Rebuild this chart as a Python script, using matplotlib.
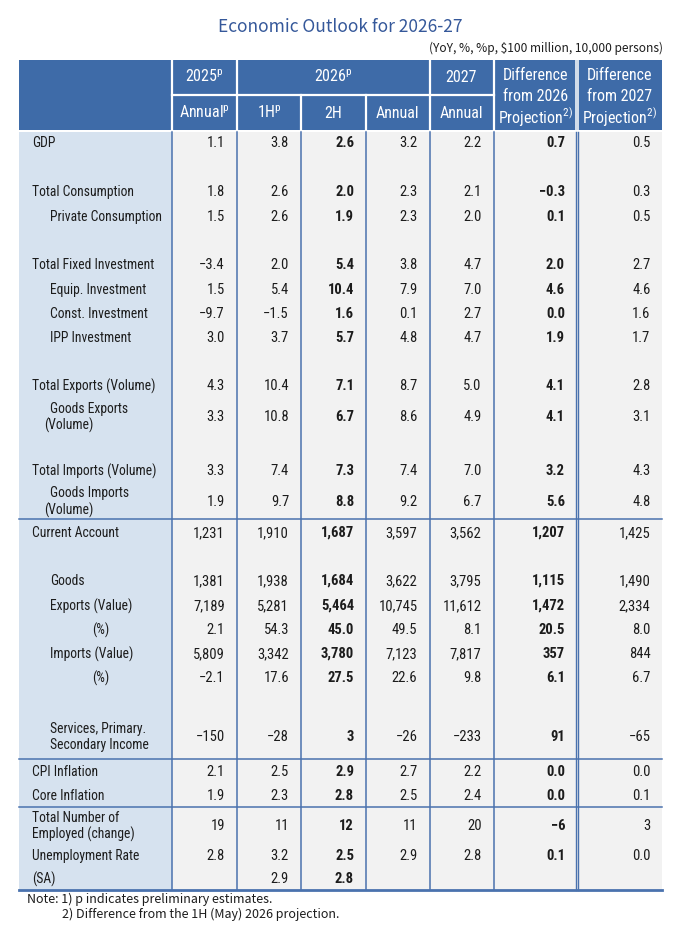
import matplotlib
matplotlib.use('Agg')
import matplotlib.pyplot as plt
from matplotlib import font_manager
from matplotlib.patches import Rectangle

# pick a condensed family if there is one
installed = {f.name for f in font_manager.fontManager.ttflist}
fam = 'DejaVu Sans'
for cand in ['Liberation Sans Narrow', 'DejaVu Sans Condensed', 'Roboto Condensed', 'Liberation Sans']:
    if cand in installed:
        fam = cand
        break
wide = ['Noto Sans CJK KR', 'DejaVu Sans']
plt.rcParams['font.family'] = [fam, 'DejaVu Sans']
plt.rcParams['mathtext.fontset'] = 'custom'
plt.rcParams['mathtext.rm'] = fam
plt.rcParams['mathtext.bf'] = fam + ':bold'

title = 'Economic Outlook for 2026-27'
units = '(YoY, %, %p, $100 million, 10,000 persons)'
notes = ['Note: 1) p indicates preliminary estimates.',
         '2) Difference from the 1H (May) 2026 projection.']

row_labels = ['GDP', 'Total Consumption', 'Private Consumption',
              'Total Fixed Investment', 'Equip. Investment', 'Const. Investment', 'IPP Investment',
              'Total Exports (Volume)', 'Goods Exports\n(Volume)',
              'Total Imports (Volume)', 'Goods Imports\n(Volume)',
              'Current Account', 'Goods', 'Exports (Value)', '(%)', 'Imports (Value)', '(%)',
              'Services, Primary.\nSecondary Income',
              'CPI Inflation', 'Core Inflation',
              'Total Number of\nEmployed (change)', 'Unemployment Rate', '(SA)']
indent = [0, 0, 1, 0, 1, 1, 1, 0, 1, 0, 1, 0, 1, 1, 2, 1, 2, 1, 0, 0, 0, 0, 0]

values = [
    ['1.1', '3.8', '2.6', '3.2', '2.2', '0.7', '0.5'],
    ['1.8', '2.6', '2.0', '2.3', '2.1', '−0.3', '0.3'],
    ['1.5', '2.6', '1.9', '2.3', '2.0', '0.1', '0.5'],
    ['−3.4', '2.0', '5.4', '3.8', '4.7', '2.0', '2.7'],
    ['1.5', '5.4', '10.4', '7.9', '7.0', '4.6', '4.6'],
    ['−9.7', '−1.5', '1.6', '0.1', '2.7', '0.0', '1.6'],
    ['3.0', '3.7', '5.7', '4.8', '4.7', '1.9', '1.7'],
    ['4.3', '10.4', '7.1', '8.7', '5.0', '4.1', '2.8'],
    ['3.3', '10.8', '6.7', '8.6', '4.9', '4.1', '3.1'],
    ['3.3', '7.4', '7.3', '7.4', '7.0', '3.2', '4.3'],
    ['1.9', '9.7', '8.8', '9.2', '6.7', '5.6', '4.8'],
    ['1,231', '1,910', '1,687', '3,597', '3,562', '1,207', '1,425'],
    ['1,381', '1,938', '1,684', '3,622', '3,795', '1,115', '1,490'],
    ['7,189', '5,281', '5,464', '10,745', '11,612', '1,472', '2,334'],
    ['2.1', '54.3', '45.0', '49.5', '8.1', '20.5', '8.0'],
    ['5,809', '3,342', '3,780', '7,123', '7,817', '357', '844'],
    ['−2.1', '17.6', '27.5', '22.6', '9.8', '6.1', '6.7'],
    ['−150', '−28', '3', '−26', '−233', '91', '−65'],
    ['2.1', '2.5', '2.9', '2.7', '2.2', '0.0', '0.0'],
    ['1.9', '2.3', '2.8', '2.5', '2.4', '0.0', '0.1'],
    ['19', '11', '12', '11', '20', '−6', '3'],
    ['2.8', '3.2', '2.5', '2.9', '2.8', '0.1', '0.0'],
    ['', '2.9', '2.8', '', '', '', ''],
]
bold_cols = [2, 5]

# layout (pixels)
row_y = [143, 192, 217, 265, 290, 314, 338, 386, 417, 471, 502, 533, 581, 606, 630,
         654, 678, 737, 772, 796, 826, 856, 879]
edges = [18.5, 172, 237, 301, 366, 429.5, 493.5, 577, 662]
hdr_top, hdr_mid, hdr_bot = 60, 95, 130
body_top, body_bot = 131.5, 890
separators = [519, 759, 807]

HDR = '#3e6ba8'
LINE = '#4a72ae'
LEFT = '#d6e2ef'
CELL = '#f2f2f2'
TXT = '#1c1c1c'

fig = plt.figure(figsize=(6.81, 9.25), dpi=100)
ax = fig.add_axes([0, 0, 1, 1])
ax.set_xlim(0, 681)
ax.set_ylim(925, 0)
ax.axis('off')

ax.text(340.5, 27, title, ha='center', va='center', fontsize=12.5, color='#35589a', family=wide)
ax.text(663, 48, units, ha='right', va='center', fontsize=8.6, color=TXT, family=wide)

# header
ax.add_patch(Rectangle((edges[0], hdr_top), edges[-1] - edges[0], hdr_bot - hdr_top, color=HDR, lw=0))
wl = dict(color='white', lw=1.6)
for x in edges[1:-1]:
    if x in (301, 366):
        ax.plot([x, x], [hdr_mid, hdr_bot], **wl)
    elif x == 577:
        ax.plot([x - 1.4, x - 1.4], [hdr_top, hdr_bot], color='white', lw=1.1)
        ax.plot([x + 1.4, x + 1.4], [hdr_top, hdr_bot], color='white', lw=1.1)
    else:
        ax.plot([x, x], [hdr_top, hdr_bot], **wl)
ax.plot([edges[1], edges[6]], [hdr_mid, hdr_mid], **wl)

hk = dict(ha='center', va='center', color='white', fontsize=11.5)
ax.text((edges[1] + edges[2]) / 2, 77, r'2025$^{\mathrm{p}}$', **hk)
ax.text((edges[2] + edges[5]) / 2, 77, r'2026$^{\mathrm{p}}$', **hk)
ax.text((edges[5] + edges[6]) / 2, 77, '2027', **hk)
sub = [r'Annual$^{\mathrm{p}}$', r'1H$^{\mathrm{p}}$', '2H', 'Annual', 'Annual']
for i, s in enumerate(sub):
    ax.text((edges[i + 1] + edges[i + 2]) / 2, 113, s, **hk)
for i, yr in [(6, '2026'), (7, '2027')]:
    cx = (edges[i] + edges[i + 1]) / 2
    ax.text(cx, 76, 'Difference', **hk)
    ax.text(cx, 96.5, 'from ' + yr, **hk)
    ax.text(cx, 117, r'Projection$^{\mathrm{2)}}$', **hk)

# body
ax.add_patch(Rectangle((edges[0], body_top), edges[1] - edges[0], body_bot - body_top, color=LEFT, lw=0))
ax.add_patch(Rectangle((edges[1], body_top), edges[-1] - edges[1], body_bot - body_top, color=CELL, lw=0))
for x in edges[1:-1]:
    if x == 577:
        ax.plot([x - 1.4, x - 1.4], [body_top, body_bot], color=LINE, lw=1.0)
        ax.plot([x + 1.4, x + 1.4], [body_top, body_bot], color=LINE, lw=1.0)
    else:
        ax.plot([x, x], [body_top, body_bot], color=LINE, lw=1.1)
for y in separators:
    ax.plot([edges[0], edges[-1]], [y, y], color=LINE, lw=1.1)
ax.plot([edges[0], edges[-1]], [body_bot, body_bot], color=LINE, lw=2.0)

label_x = {0: 32, 1: 50}
lfs = 9.8
for lab, ind, y, vals in zip(row_labels, indent, row_y, values):
    if ind == 2:
        ax.text(101, y, lab, ha='center', va='center', fontsize=lfs, color=TXT)
    elif '\n' in lab:
        l1, l2 = lab.split('\n')
        x2 = 44 if ind == 1 and l2.startswith('(') else label_x[ind]
        ax.text(label_x[ind], y - 8.5, l1, ha='left', va='center', fontsize=lfs, color=TXT)
        ax.text(x2, y + 8.5, l2, ha='left', va='center', fontsize=lfs, color=TXT)
    else:
        ax.text(label_x[ind], y, lab, ha='left', va='center', fontsize=lfs, color=TXT)
    for j, v in enumerate(vals):
        ax.text(edges[j + 2] - 12 if j < 6 else edges[-1] - 11.5, y, v, ha='right', va='center',
                fontsize=10.5, color=TXT,
                fontweight='bold' if j in bold_cols else 'normal')

ax.text(27, 899, notes[0], ha='left', va='center', fontsize=9, color=TXT, family=wide)
ax.text(62, 914, notes[1], ha='left', va='center', fontsize=9, color=TXT, family=wide)

fig.savefig('out.png', dpi=100)
